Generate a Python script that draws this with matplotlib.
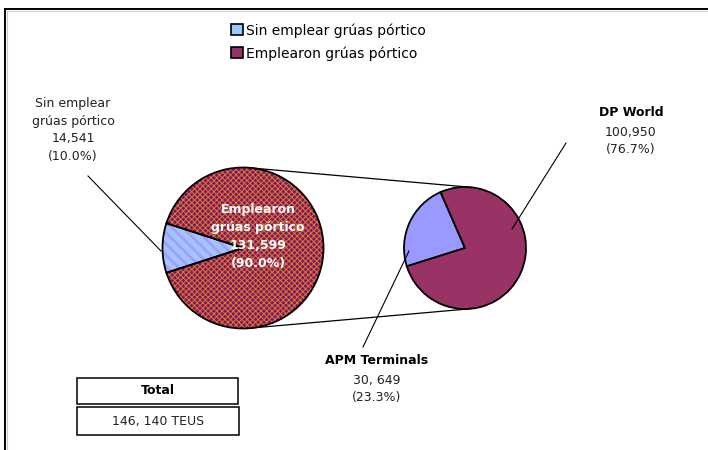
#!/usr/bin/env python3
# -*- coding: utf-8 -*-
import numpy as np
import matplotlib
matplotlib.use("Agg")
import matplotlib.pyplot as plt
from matplotlib.patches import Wedge, Patch, Rectangle
from matplotlib.lines import Line2D

# ---------------- Data ----------------
MAIN_LABELS = ["Sin emplear grúas pórtico", "Emplearon grúas pórtico"]
MAIN_VALUES = [14541, 131599]
MAIN_PCT = ["10.0%", "90.0%"]

SUB_LABELS = ["APM Terminals", "DP World"]
SUB_VALUES = [30649, 100950]
SUB_VALUE_TEXT = ["30, 649", "100,950"]
SUB_PCT = ["23.3%", "76.7%"]

TOTAL_TEXT = "146, 140 TEUS"

# ---------------- Style ----------------
C_BLUE = "#9CC8FF"
C_BLUE_STRIPE = "#AC98FF"
C_PURPLE = "#80107E"
C_ORANGE = "#D8820E"
C_DP = "#993366"
C_APM = "#9999FF"

plt.rcParams["font.family"] = "DejaVu Sans"
plt.rcParams["hatch.linewidth"] = 0.8

W, H = 708, 450
fig = plt.figure(figsize=(W / 100, H / 100), dpi=100)
ax = fig.add_axes([0, 0, 1, 1])
ax.set_xlim(0, W)
ax.set_ylim(0, H)
ax.set_aspect("equal")
ax.axis("off")

# frame (only top and left edges visible)
ax.add_line(Line2D([5, W], [H - 9, H - 9], color="black", lw=1.4))
ax.add_line(Line2D([5, 5], [0, H - 9], color="black", lw=1.4))
ax.add_line(Line2D([7, W], [H - 11, H - 11], color="#cccccc", lw=0.8))
ax.add_line(Line2D([7, 7], [0, H - 11], color="#cccccc", lw=0.8))

# ---------------- Main pie ----------------
main_c, main_r = (243, 202), 80.5
main_frac0 = MAIN_VALUES[0] / sum(MAIN_VALUES)
main_wedges, _ = ax.pie(MAIN_VALUES, center=main_c, radius=main_r,
                        startangle=180 - main_frac0 * 180, counterclock=True,
                        frame=True, wedgeprops=dict(linewidth=0))
fills = [(C_BLUE, C_BLUE_STRIPE, "\\\\\\", 2.0),
         (C_PURPLE, C_ORANGE, "xxxxxx", 0.7)]
for w, (fc, hc, hatch, hlw) in zip(main_wedges, fills):
    w.set_facecolor(fc)
    w.set_edgecolor(hc)
    w.set_hatch(hatch)
    w.set_linewidth(0)
    if hasattr(w, "set_hatch_linewidth"):
        w.set_hatch_linewidth(hlw)
    ax.add_patch(Wedge(main_c, main_r, w.theta1, w.theta2,
                       facecolor="none", edgecolor="black", lw=1.3, zorder=3))

# ---------------- Sub pie ----------------
sub_c, sub_r = (465, 202), 61
ax.pie(SUB_VALUES, center=sub_c, radius=sub_r, startangle=113.6,
       counterclock=True, colors=[C_APM, C_DP], frame=True,
       wedgeprops=dict(edgecolor="black", linewidth=1.3))

ax.set_xlim(0, W)
ax.set_ylim(0, H)
ax.axis("off")

# connector lines between the pies
for a_main, a_sub in [(83, 85), (-83, -85)]:
    p1 = (main_c[0] + main_r * np.cos(np.radians(a_main)),
          main_c[1] + main_r * np.sin(np.radians(a_main)))
    p2 = (sub_c[0] + sub_r * np.cos(np.radians(a_sub)),
          sub_c[1] + sub_r * np.sin(np.radians(a_sub)))
    ax.add_line(Line2D([p1[0], p2[0]], [p1[1], p2[1]], color="black", lw=0.9))

# ---------------- Labels ----------------
ax.text(73, 320, "Sin emplear\ngrúas pórtico\n{:,}\n({})".format(MAIN_VALUES[0], MAIN_PCT[0]),
        ha="center", va="center", fontsize=9, linespacing=1.45, color="#222222")
ax.add_line(Line2D([88, 161], [274, 199], color="black", lw=0.8))

ax.text(258, 213.5, "Emplearon\ngrúas pórtico\n{:,}\n({})".format(MAIN_VALUES[1], MAIN_PCT[1]),
        ha="center", va="center", fontsize=9, fontweight="bold",
        linespacing=1.5, color="white", zorder=5)

ax.text(631, 337, SUB_LABELS[1], ha="center", va="center", fontsize=9, fontweight="bold")
ax.text(631, 309, "{}\n({})".format(SUB_VALUE_TEXT[1], SUB_PCT[1]),
        ha="center", va="center", fontsize=9, linespacing=1.45, color="#222222")
ax.add_line(Line2D([566, 512], [307, 221], color="black", lw=0.8, zorder=4))

ax.text(377, 89, SUB_LABELS[0], ha="center", va="center", fontsize=9, fontweight="bold")
ax.text(377, 61, "{}\n({})".format(SUB_VALUE_TEXT[0], SUB_PCT[0]),
        ha="center", va="center", fontsize=9, linespacing=1.45, color="#222222")
ax.add_line(Line2D([409, 363], [199, 103], color="black", lw=0.8, zorder=4))

# ---------------- Total boxes ----------------
ax.add_patch(Rectangle((77, 46), 161, 26, facecolor="white", edgecolor="black", lw=1.1))
ax.add_patch(Rectangle((77, 15), 162, 28, facecolor="white", edgecolor="black", lw=1.1))
ax.text(157.5, 59, "Total", ha="center", va="center", fontsize=9, fontweight="bold")
ax.text(158, 29, TOTAL_TEXT, ha="center", va="center", fontsize=9, color="#222222")

# ---------------- Legend ----------------
handles = [Patch(facecolor=C_BLUE, edgecolor="black", lw=1.2),
           Patch(facecolor=C_DP, edgecolor="black", lw=1.2)]
ax.legend(handles, MAIN_LABELS, loc="upper left",
          bbox_to_anchor=(231 / W, (H - 23) / H), frameon=False,
          fontsize=10, handlelength=0.85, handleheight=0.85,
          handletextpad=0.2, labelspacing=0.62, borderpad=0, borderaxespad=0)

fig.savefig("out.png", dpi=100)
